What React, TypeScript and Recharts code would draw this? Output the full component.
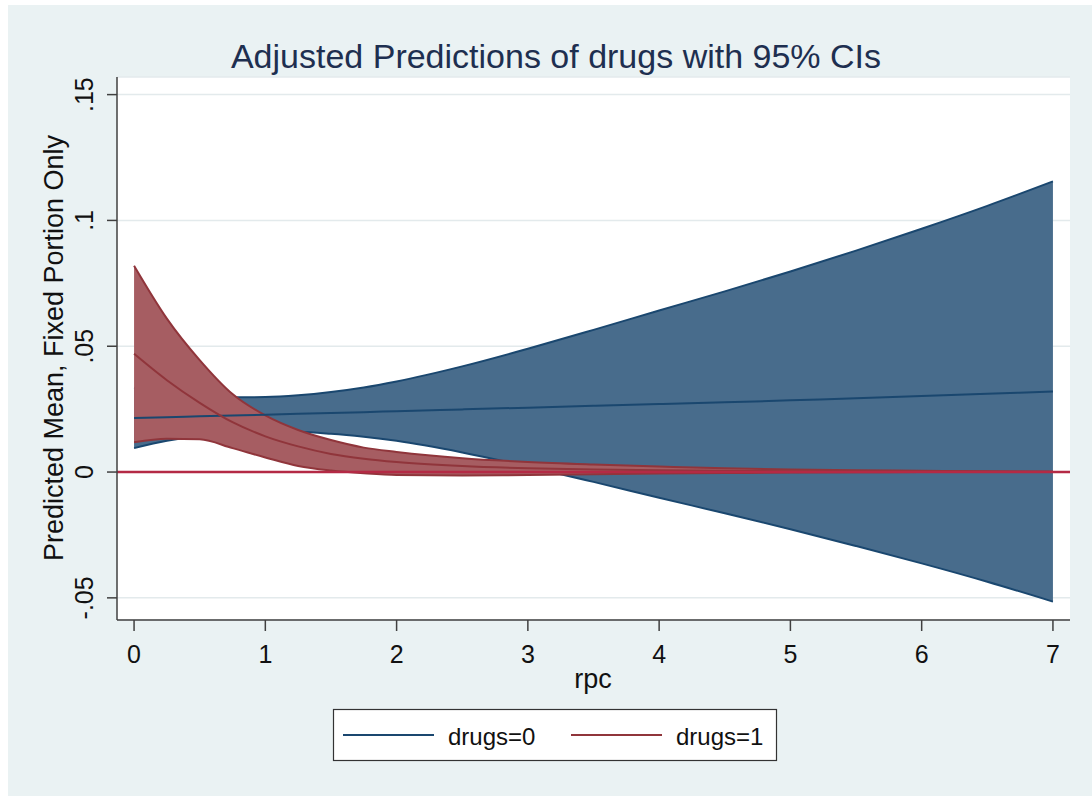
import React from "react";
import {
  ComposedChart,
  Area,
  Line,
  XAxis,
  YAxis,
  CartesianGrid,
  ReferenceLine,
} from "recharts";

// ---- data ----
const rpc = [0, 0.25, 0.5, 0.75, 1, 1.25, 1.5, 1.75, 2, 2.5, 3, 3.5, 4, 4.5, 5, 5.5, 6, 6.5, 7];

// drugs = 0
const mean0 = [0.0215, 0.0218, 0.0222, 0.0225, 0.0228, 0.0232, 0.0235, 0.0238, 0.0242, 0.0249, 0.0256, 0.0263, 0.027, 0.0277, 0.0285, 0.0293, 0.0302, 0.0311, 0.032];
const upper0 = [0.0335, 0.0312, 0.0301, 0.0297, 0.0298, 0.0305, 0.0318, 0.0336, 0.036, 0.042, 0.049, 0.0565, 0.0642, 0.0718, 0.0797, 0.088, 0.0967, 0.1058, 0.1155];
const lower0 = [0.0095, 0.0124, 0.0143, 0.0153, 0.0158, 0.0159, 0.0152, 0.014, 0.0124, 0.0078, 0.0022, -0.0039, -0.0102, -0.0164, -0.0227, -0.0294, -0.0363, -0.0436, -0.0515];

// drugs = 1
const mean1 = [0.047, 0.0365, 0.0275, 0.0198, 0.0142, 0.0102, 0.0072, 0.0053, 0.004, 0.0024, 0.0015, 0.001, 0.0007, 0.0005, 0.0003, 0.0002, 0.0001, 0.0001, 0];
const upper1 = [0.082, 0.061, 0.0445, 0.031, 0.0225, 0.0167, 0.0127, 0.0097, 0.008, 0.0055, 0.004, 0.003, 0.0022, 0.0015, 0.001, 0.0007, 0.0005, 0.0003, 0.0002];
const lower1 = [0.0118, 0.0132, 0.013, 0.0095, 0.0058, 0.0024, 0.0006, -0.0005, -0.0012, -0.0014, -0.0012, -0.0009, -0.0006, -0.0004, -0.0002, -0.0001, 0, 0, 0];

const xTicks = [0, 1, 2, 3, 4, 5, 6, 7];
const yTicks = [-0.05, 0, 0.05, 0.1, 0.15];

const titleText = "Adjusted Predictions of drugs with 95% CIs";
const yTitle = "Predicted Mean, Fixed Portion Only";
const xTitle = "rpc";
const seriesNames = ["drugs=0", "drugs=1"];

const data = rpc.map((x, i) => ({
  x,
  m0: mean0[i],
  b0: [lower0[i], upper0[i]],
  m1: mean1[i],
  b1: [lower1[i], upper1[i]],
}));

const FONT = '"Liberation Sans", Arial, Helvetica, sans-serif';
const NAVY = "#1a476f";
const NAVY_FILL = "#486c8c";
const MAROON = "#90353b";
const MAROON_FILL = "#a65d62";
const YLINE = "#b42a45";
const AXIS = "#404040";

const fmt = (v: number) => {
  if (v === 0) return "0";
  const s = String(Math.abs(v)).replace(/^0/, "");
  return v < 0 ? "-" + s : s;
};

const YTick = (props: any) => {
  const { x, y, payload } = props;
  return (
    <text
      transform={`translate(${x - 14}, ${y}) rotate(-90)`}
      textAnchor="middle"
      fontFamily={FONT}
      fontSize={25}
      fill="#111"
    >
      {fmt(payload.value)}
    </text>
  );
};

const XTick = (props: any) => {
  const { x, y, payload } = props;
  return (
    <text x={x} y={y + 32} textAnchor="middle" fontFamily={FONT} fontSize={25} fill="#111">
      {fmt(payload.value)}
    </text>
  );
};

export default function App() {
  const W = 1084;
  const H = 791;
  return (
    <div
      style={{
        position: "absolute",
        left: 8,
        top: 5,
        width: W,
        height: H,
        background: "#eaf2f3",
        overflow: "hidden",
      }}
    >
      <ComposedChart
        width={W}
        height={H}
        data={data}
        margin={{ top: 72, right: 22, bottom: 96, left: 0 }}
      >
        <CartesianGrid
          vertical={false}
          stroke="#e3eaec"
          strokeWidth={1.5}
          fill="#ffffff"
          fillOpacity={1}
        />
        <XAxis
          dataKey="x"
          type="number"
          domain={[-0.13, 7.13]}
          ticks={xTicks}
          allowDataOverflow
          height={80}
          tickSize={11}
          tickMargin={0}
          tick={<XTick />}
          axisLine={{ stroke: AXIS, strokeWidth: 1.5 }}
          tickLine={{ stroke: AXIS, strokeWidth: 1.5 }}
          interval={0}
        />
        <YAxis
          type="number"
          domain={[-0.0588, 0.157]}
          ticks={yTicks}
          allowDataOverflow
          width={109}
          tickSize={10}
          tickMargin={0}
          tick={<YTick />}
          axisLine={{ stroke: AXIS, strokeWidth: 1.5 }}
          tickLine={{ stroke: AXIS, strokeWidth: 1.5 }}
          interval={0}
        />
        <Area
          dataKey="b0"
          type="monotone"
          stroke={NAVY}
          strokeWidth={2}
          fill={NAVY_FILL}
          fillOpacity={1}
          isAnimationActive={false}
          dot={false}
          activeDot={false}
        />
        <Area
          dataKey="b1"
          type="monotone"
          stroke={MAROON}
          strokeWidth={2}
          fill={MAROON_FILL}
          fillOpacity={1}
          isAnimationActive={false}
          dot={false}
          activeDot={false}
        />
        <Line
          dataKey="m0"
          type="monotone"
          stroke={NAVY}
          strokeWidth={2}
          dot={false}
          activeDot={false}
          isAnimationActive={false}
        />
        <Line
          dataKey="m1"
          type="monotone"
          stroke={MAROON}
          strokeWidth={2}
          dot={false}
          activeDot={false}
          isAnimationActive={false}
        />
        <ReferenceLine y={0} stroke={YLINE} strokeWidth={2.5} />
      </ComposedChart>

      <svg
        width={W}
        height={H}
        style={{ position: "absolute", left: 0, top: 0, pointerEvents: "none" }}
      >
        <text x={548} y={63} textAnchor="middle" fontFamily={FONT} fontSize={34} fill="#1e2f50">
          {titleText}
        </text>
        <text
          transform="translate(55, 343) rotate(-90)"
          textAnchor="middle"
          fontFamily={FONT}
          fontSize={27}
          fill="#111"
        >
          {yTitle}
        </text>
        <text x={585} y={683} textAnchor="middle" fontFamily={FONT} fontSize={27} fill="#111">
          {xTitle}
        </text>
        <g transform="translate(325, 704)">
          <rect x={0.5} y={0.5} width={443} height={51} fill="#ffffff" stroke="#333" strokeWidth={1.2} />
          <line x1={10} x2={101} y1={26} y2={26} stroke={NAVY} strokeWidth={2} />
          <text x={115} y={36} fontFamily={FONT} fontSize={24} fill="#111">
            {seriesNames[0]}
          </text>
          <line x1={238} x2={329} y1={26} y2={26} stroke={MAROON} strokeWidth={2} />
          <text x={343} y={36} fontFamily={FONT} fontSize={24} fill="#111">
            {seriesNames[1]}
          </text>
        </g>
      </svg>
    </div>
  );
}
